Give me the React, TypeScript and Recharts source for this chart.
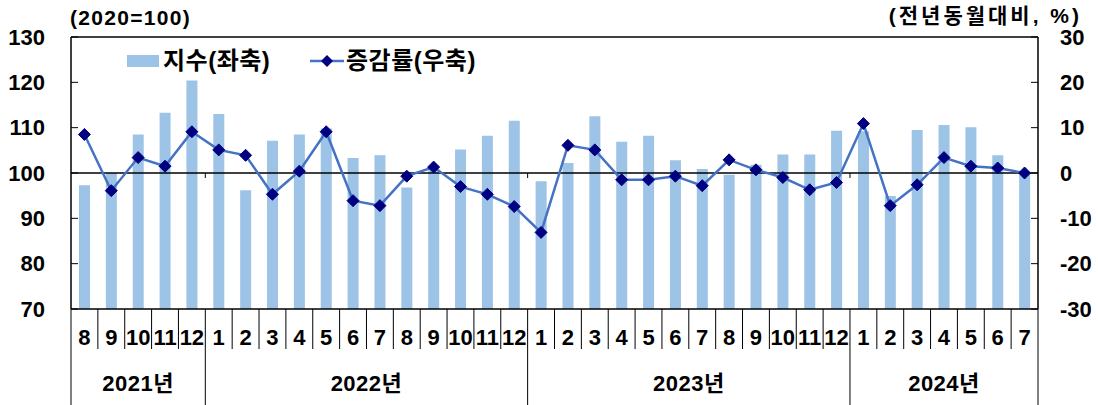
import React from "react";
import {
  ComposedChart,
  Bar,
  Line,
  XAxis,
  YAxis,
  ReferenceLine,
  Legend,
} from "recharts";

const months = [
  "8", "9", "10", "11", "12",
  "1", "2", "3", "4", "5", "6", "7", "8", "9", "10", "11", "12",
  "1", "2", "3", "4", "5", "6", "7", "8", "9", "10", "11", "12",
  "1", "2", "3", "4", "5", "6", "7",
];

const yearLabels = ["2021년", "2022년", "2023년", "2024년"];
const yearCounts = [5, 12, 12, 7];

// 지수 (2020=100), 좌축
const indexValues = [
  97.3, 100.0, 108.5, 113.3, 120.4,
  113.0, 96.2, 107.1, 108.5, 109.8, 103.3, 103.9, 96.8, 100.6, 105.2, 108.2, 111.5,
  98.2, 102.2, 112.5, 106.9, 108.2, 102.8, 100.9, 99.6, 101.8, 104.1, 104.1, 109.3,
  109.2, 94.9, 109.5, 110.6, 110.1, 103.9, 99.9,
];

// 증감률 (전년동월대비, %), 우축
const rateValues = [
  8.5, -3.9, 3.4, 1.5, 9.1,
  5.1, 3.9, -4.7, 0.4, 9.1, -6.1, -7.2, -0.7, 1.3, -3.0, -4.7, -7.4,
  -13.1, 6.1, 5.1, -1.5, -1.5, -0.7, -2.8, 2.9, 0.7, -1.0, -3.7, -2.1,
  10.9, -7.2, -2.6, 3.4, 1.5, 1.1, 0.0,
];

const leftTicks = [70, 80, 90, 100, 110, 120, 130];
const rightTicks = [-30, -20, -10, 0, 10, 20, 30];

const data = months.map((m, i) => ({
  key: `${i}`,
  month: m,
  index: indexValues[i],
  rate: rateValues[i],
}));

const W = 1098;
const H = 405;
const PLOT_L = 71;
const PLOT_R = 1038;
const PLOT_T = 37;
const PLOT_B = 309;
const STEP = (PLOT_R - PLOT_L) / months.length;
const ZERO_Y = 173;

const FONT = '"Liberation Sans", Arial, "Noto Sans CJK KR", sans-serif';
const BAR_COLOR = "#9dc3e6";
const LINE_COLOR = "#4472c4";
const MARKER_COLOR = "#000080";

// year group start indexes
const yearStarts = yearCounts.map((_, i) =>
  yearCounts.slice(0, i).reduce((a, b) => a + b, 0)
);

// eslint-disable-next-line @typescript-eslint/no-explicit-any
function MonthTick(props: any) {
  const { x, payload } = props;
  const i: number = props.index ?? payload.index;
  const left = x - STEP / 2;
  const yearIdx = yearStarts.indexOf(i);
  const isYearStart = yearIdx >= 0;
  return (
    <g>
      <line
        x1={left}
        x2={left}
        y1={PLOT_B}
        y2={isYearStart ? H : 349}
        stroke="#000"
        strokeWidth={1}
      />
      {isYearStart && i > 0 && (
        <line x1={left} x2={left} y1={ZERO_Y} y2={ZERO_Y + 5} stroke="#000" />
      )}
      {i === months.length - 1 && (
        <line x1={x + STEP / 2} x2={x + STEP / 2} y1={PLOT_B} y2={H} stroke="#000" />
      )}
      <text
        x={x}
        y={337}
        textAnchor="middle"
        dominantBaseline="central"
        fontFamily={FONT}
        fontWeight="bold"
        fontSize={22}
        fill="#000"
      >
        {months[i]}
      </text>
      {isYearStart && (
        <text
          x={left + (yearCounts[yearIdx] * STEP) / 2}
          y={383}
          textAnchor="middle"
          dominantBaseline="central"
          fontFamily={FONT}
          fontWeight="bold"
          fontSize={22}
          letterSpacing={0.5}
          fill="#000"
        >
          {yearLabels[yearIdx]}
        </text>
      )}
    </g>
  );
}

// eslint-disable-next-line @typescript-eslint/no-explicit-any
function LeftTick({ y, payload }: any) {
  return (
    <g>
      <line x1={PLOT_L} x2={PLOT_L + 7} y1={y} y2={y} stroke="#000" />
      <text
        x={45}
        y={y}
        textAnchor="end"
        dominantBaseline="central"
        fontFamily={FONT}
        fontWeight="bold"
        fontSize={22}
        fill="#000"
      >
        {payload.value}
      </text>
    </g>
  );
}

// eslint-disable-next-line @typescript-eslint/no-explicit-any
function RightTick({ y, payload }: any) {
  return (
    <g>
      <line x1={PLOT_R - 7} x2={PLOT_R} y1={y} y2={y} stroke="#000" />
      <text
        x={1060}
        y={y}
        textAnchor="start"
        dominantBaseline="central"
        fontFamily={FONT}
        fontWeight="bold"
        fontSize={22}
        fill="#000"
      >
        {payload.value}
      </text>
    </g>
  );
}

// eslint-disable-next-line @typescript-eslint/no-explicit-any
function Diamond({ cx, cy, index }: any) {
  if (cx == null || cy == null) return <g key={`d-${index}`} />;
  const r = 6;
  return (
    <path
      key={`d-${index}`}
      d={`M${cx},${cy - r} L${cx + r},${cy} L${cx},${cy + r} L${cx - r},${cy} Z`}
      fill={MARKER_COLOR}
      stroke={MARKER_COLOR}
    />
  );
}

function ChartLegend() {
  const text = {
    position: "absolute" as const,
    top: 46,
    fontFamily: FONT,
    fontWeight: "bold" as const,
    fontSize: 24,
    letterSpacing: "0.5px",
    lineHeight: "30px",
    color: "#000",
    whiteSpace: "nowrap" as const,
  };
  return (
    <div style={{ position: "relative", width: W, height: 0 }}>
      <div
        style={{
          position: "absolute",
          left: 127,
          top: 55,
          width: 32,
          height: 12,
          background: BAR_COLOR,
        }}
      />
      <span style={{ ...text, left: 163 }}>지수(좌축)</span>
      <svg
        width={34}
        height={14}
        style={{ position: "absolute", left: 310, top: 54 }}
      >
        <line x1={0} x2={34} y1={7} y2={7} stroke={LINE_COLOR} strokeWidth={2.5} />
        <path d="M17,1 L23,7 L17,13 L11,7 Z" fill={MARKER_COLOR} />
      </svg>
      <span style={{ ...text, left: 346 }}>증감률(우축)</span>
    </div>
  );
}

export default function App() {
  return (
    <div style={{ position: "absolute", left: 0, top: 0, width: W, height: H, background: "#fff" }}>
      <div
        style={{
          position: "absolute",
          left: 70,
          top: 5,
          fontFamily: FONT,
          fontWeight: "bold",
          fontSize: 21,
          letterSpacing: "1.3px",
          lineHeight: "26px",
          whiteSpace: "nowrap",
        }}
      >
        (2020=100)
      </div>
      <div
        style={{
          position: "absolute",
          right: W - 1082,
          top: 3,
          fontFamily: FONT,
          fontWeight: "bold",
          fontSize: 21,
          letterSpacing: "3px",
          lineHeight: "26px",
          whiteSpace: "nowrap",
        }}
      >
        (전년동월대비, %)
      </div>
      <ComposedChart
        width={W}
        height={H}
        data={data}
        margin={{ top: PLOT_T, right: 0, bottom: 0, left: 0 }}
        barCategoryGap={0}
      >
        <XAxis
          dataKey="key"
          height={H - PLOT_B}
          interval={0}
          tickLine={false}
          axisLine={{ stroke: "#000", strokeWidth: 1.5 }}
          tick={<MonthTick />}
        />
        <YAxis
          yAxisId="left"
          orientation="left"
          width={PLOT_L}
          domain={[70, 130]}
          ticks={leftTicks}
          interval={0}
          tickLine={false}
          axisLine={{ stroke: "#000", strokeWidth: 1.5 }}
          tick={<LeftTick />}
        />
        <YAxis
          yAxisId="right"
          orientation="right"
          width={W - PLOT_R}
          domain={[-30, 30]}
          ticks={rightTicks}
          interval={0}
          tickLine={false}
          axisLine={{ stroke: "#000", strokeWidth: 1.5 }}
          tick={<RightTick />}
        />
        <Legend verticalAlign="top" wrapperStyle={{ top: 0, left: 0 }} content={() => <ChartLegend />} />
        <Bar
          yAxisId="left"
          dataKey="index"
          fill={BAR_COLOR}
          barSize={11}
          isAnimationActive={false}
        />
        <ReferenceLine yAxisId="left" y={130} stroke="#000" strokeWidth={1.5} />
        <ReferenceLine yAxisId="right" y={0} stroke="#000" strokeWidth={1.5} />
        <Line
          yAxisId="right"
          dataKey="rate"
          stroke={LINE_COLOR}
          strokeWidth={2.5}
          dot={(p: any) => <Diamond key={`d-${p.index}`} {...p} />}
          activeDot={false}
          isAnimationActive={false}
        />
      </ComposedChart>
    </div>
  );
}
